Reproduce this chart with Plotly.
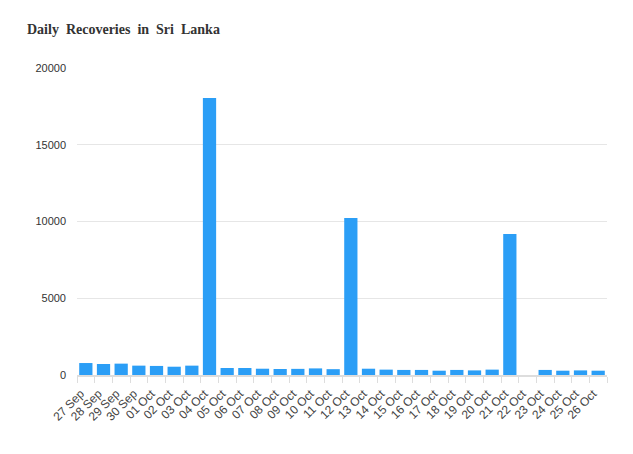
import plotly.graph_objects as go

dates = ["27 Sep", "28 Sep", "29 Sep", "30 Sep", "01 Oct", "02 Oct", "03 Oct", "04 Oct",
         "05 Oct", "06 Oct", "07 Oct", "08 Oct", "09 Oct", "10 Oct", "11 Oct", "12 Oct",
         "13 Oct", "14 Oct", "15 Oct", "16 Oct", "17 Oct", "18 Oct", "19 Oct", "20 Oct",
         "21 Oct", "22 Oct", "23 Oct", "24 Oct", "25 Oct", "26 Oct"]
recoveries = [780, 715, 740, 610, 590, 540, 610, 18050,
              455, 455, 410, 390, 400, 430, 380, 10230,
              410, 350, 330, 330, 280, 330, 300, 350,
              9180, 0, 330, 280, 300, 280]
y_ticks = [0, 5000, 10000, 15000, 20000]

fig = go.Figure()
fig.add_trace(go.Bar(
    x=dates, y=recoveries,
    marker=dict(color="#2b9ef6", line=dict(width=0)),
))

fig.update_layout(
    width=633, height=454,
    margin=dict(l=77, r=26, t=68, b=79),
    paper_bgcolor="white", plot_bgcolor="white",
    bargap=0.25,
    showlegend=False,
    title=dict(
        text="Daily  Recoveries  in  Sri  Lanka",
        x=27 / 633, xanchor="left", y=1 - 29 / 454, yanchor="middle",
        font=dict(family="Liberation Serif", size=14, color="#333333", weight="bold"),
    ),
    xaxis=dict(
        type="category",
        tickangle=-45,
        tickson="boundaries",
        ticks="outside", ticklen=6, tickcolor="#dddddd",
        showline=True, linecolor="#dddddd", linewidth=2,
        showgrid=False,
        ticklabelstandoff=5,
        ticklabelshift=-5,
        tickfont=dict(family="Arial", size=12, color="#444444"),
    ),
    yaxis=dict(
        range=[0, 20000],
        tickvals=y_ticks,
        ticktext=[str(v) for v in y_ticks],
        gridcolor="#e6e6e6", gridwidth=1,
        zeroline=False,
        ticklabelstandoff=10,
        tickfont=dict(family="Arial", size=11, color="#333333"),
    ),
)

fig.write_html("out.html")
